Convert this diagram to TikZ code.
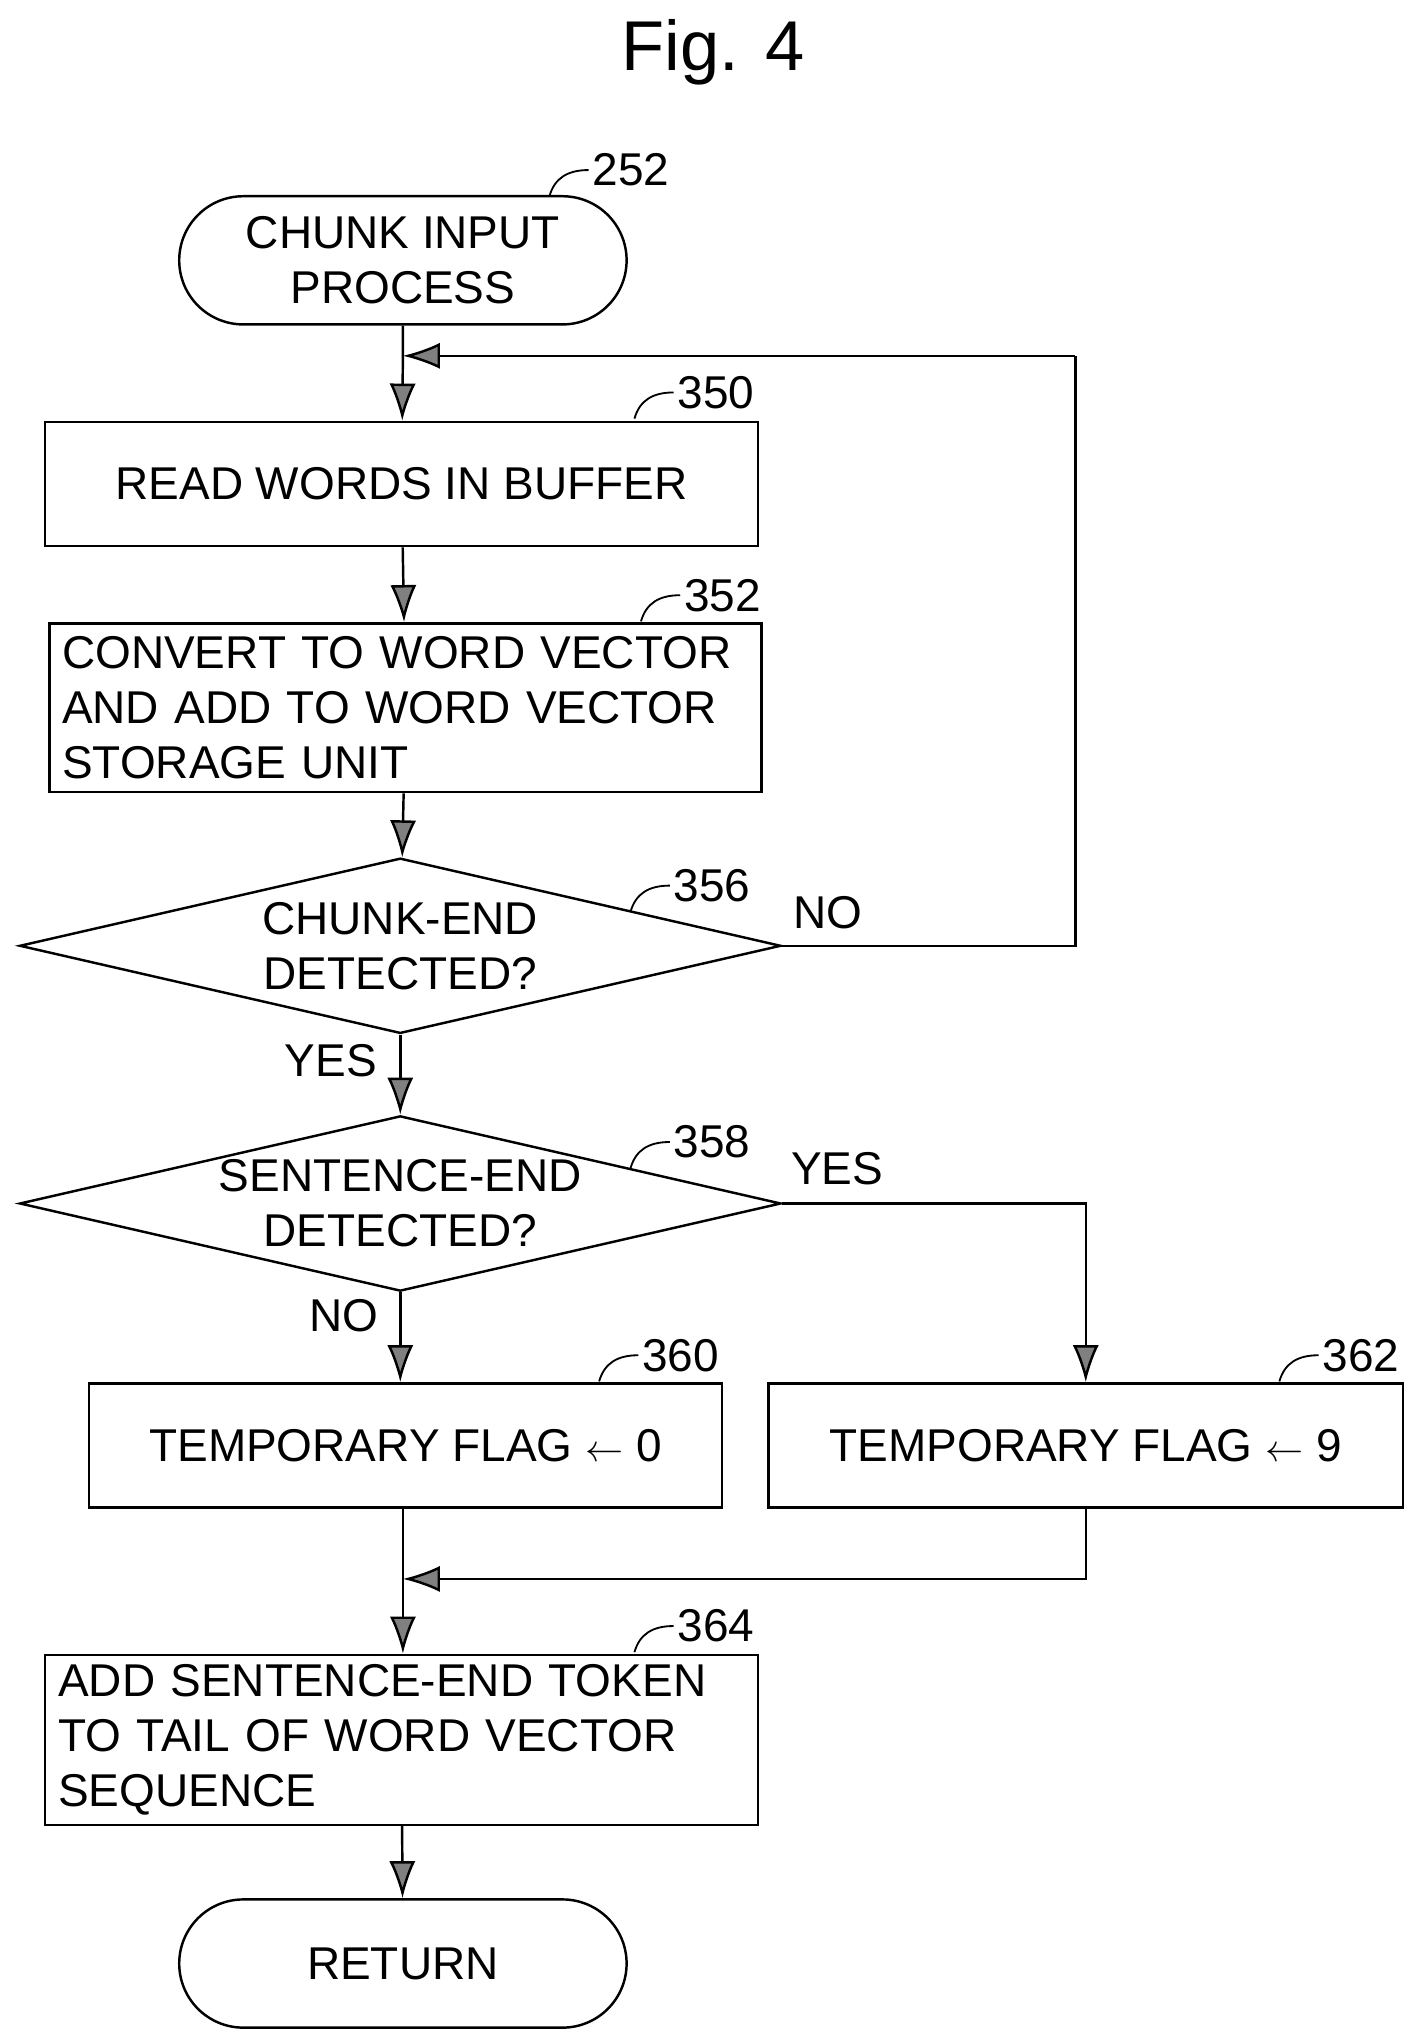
\documentclass[tikz,border=0pt]{standalone}
\usepackage{fontspec}
\setmainfont{Liberation Sans}
\usetikzlibrary{shapes.geometric,shapes.misc,arrows.meta}
\hyphenpenalty=10000
\tikzset{
  u/.style={x=0.03cm,y=-0.03cm},
  txt/.style={font=\fontsize{30}{36}\selectfont},
  box/.style={draw,line width=1.6pt,txt,minimum width=#1*0.03cm,inner sep=0pt},
  term/.style={draw,line width=1.6pt,txt,rounded rectangle,minimum width=342*0.03cm,minimum height=98*0.03cm,inner sep=0pt,align=center},
  dec/.style={draw,line width=1.6pt,txt,diamond,aspect=4.4,minimum width=582*0.03cm,minimum height=134*0.03cm,inner sep=0pt,align=center},
  flow/.style={line width=1.6pt,-{Latex[length=0.85cm,width=0.6cm,fill=gray]}},
  link/.style={line width=1.6pt},
  refno/.style={txt,anchor=west,inner sep=2pt}
}
\newcommand{\refmark}[2]{\draw[line width=1.2pt] (#1) .. controls +(4,-14) and +(-16,0) .. ++(30,-20) node[refno]{#2};}
\begin{document}
\begin{tikzpicture}[u]
\useasboundingbox (0,0) rectangle (1084,1561);
\node[font=\fontsize{46}{54}\selectfont] (title) at (545,40) {Fig. 4};
\node[term] (start) at (308,199) {CHUNK INPUT\\PROCESS};
\node[box=545,minimum height=95*0.03cm] (read) at (307,370) {READ WORDS IN BUFFER};
\node[box=544,minimum height=129*0.03cm,text width=525*0.03cm,align=left] (conv) at (310,541) {CONVERT TO WORD VECTOR\\AND ADD TO WORD VECTOR\\STORAGE UNIT};
\node[dec] (chunk) at (306,723) {CHUNK-END\\DETECTED?};
\node[dec] (sent) at (306,920) {SENTENCE-END\\DETECTED?};
\node[box=484,minimum height=95*0.03cm] (flag0) at (310,1105) {TEMPORARY FLAG $\leftarrow$ 0};
\node[box=485,minimum height=95*0.03cm] (flag9) at (830,1105) {TEMPORARY FLAG $\leftarrow$ 9};
\node[box=545,minimum height=130*0.03cm,text width=525*0.03cm,align=left] (token) at (307,1330) {ADD SENTENCE-END TOKEN\\TO TAIL OF WORD VECTOR\\SEQUENCE};
\node[term] (ret) at (308,1501) {RETURN};
\coordinate (loop) at (308,272);
\coordinate (merge) at (308,1207);
% connectors
\draw[link] (start) -- (loop);
\draw[flow] (loop) -- (read);
\draw[flow] (read) -- (conv);
\draw[flow] (conv) -- (chunk);
\draw[flow] (chunk) -- (sent);
\draw[flow] (sent) -- (flag0.north -| sent);
\draw[flow] (sent.east) -| (flag9.north);
\draw[link] (chunk.east) -- (822,723) -- (822,272);
\draw[flow] (822,272) -- (loop);
\draw[link] (flag0.south -| merge) -- (merge);
\draw[flow] (flag9.south) |- (merge);
\draw[flow] (merge) -- (token.north -| merge);
\draw[flow] (token) -- (ret);
% branch labels
\node[txt] (no1) at (633,698) {NO};
\node[txt] (yes1) at (253,811) {YES};
\node[txt] (yes2) at (640,893) {YES};
\node[txt] (no2) at (263,1006) {NO};
% reference numerals
\refmark{420,150}{252}
\refmark{485,320}{350}
\refmark{490,475}{352}
\refmark{482,697}{356}
\refmark{482,893}{358}
\refmark{458,1056}{360}
\refmark{978,1056}{362}
\refmark{485,1263}{364}
\end{tikzpicture}
\end{document}
